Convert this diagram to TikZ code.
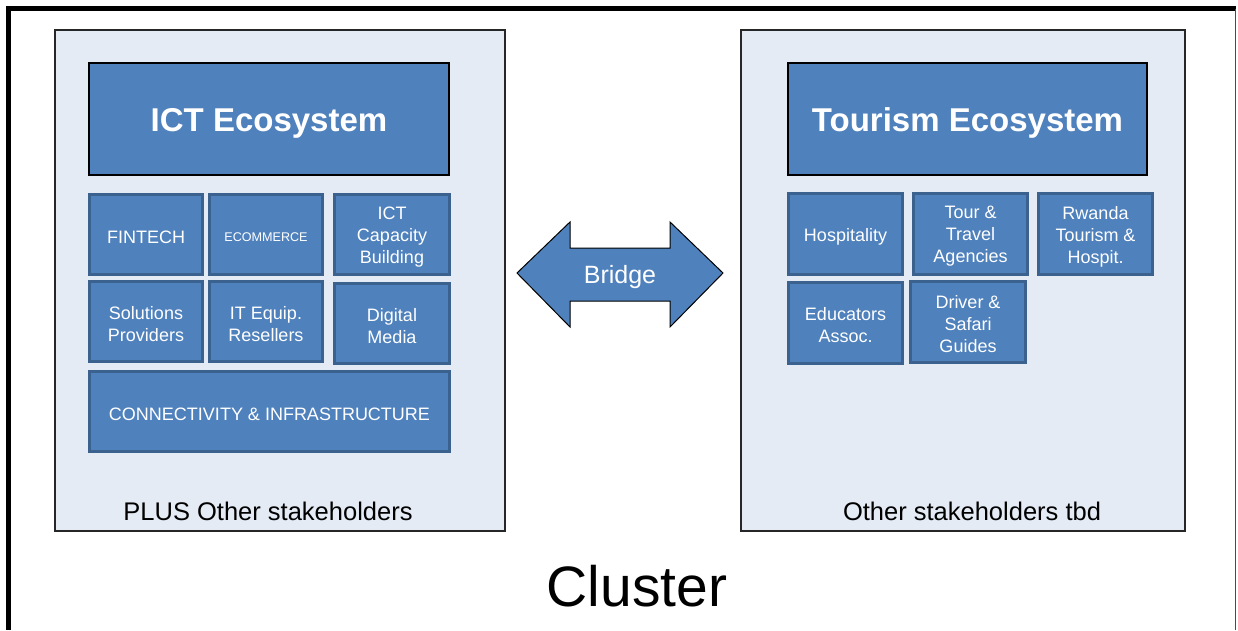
\documentclass[tikz,border=0pt]{standalone}
\usepackage{fontspec}
\setmainfont{Liberation Sans}
\definecolor{boxblue}{HTML}{4F81BD}
\definecolor{boxedge}{HTML}{3B618F}
\definecolor{panelfill}{HTML}{E4EBF5}
\newcommand\mycell[5][]{%
  \node[cellbox,#1] (#2) at (#3) {};
  \node[celltext,#4] (#2-t) at ([yshift=-2.5pt]#2.center) {#5};}
\begin{document}
\begin{tikzpicture}[x=1pt,y=-1pt,
  panel/.style={draw=black!85, line width=1.3pt, fill=panelfill},
  header/.style={draw=black, line width=1.2pt, fill=boxblue, inner sep=0pt, minimum height=112pt},
  headtext/.style={text=white, inner sep=0pt, font=\bfseries\fontsize{33}{38}\selectfont},
  cellbox/.style={draw=boxedge, line width=3pt, fill=boxblue, inner sep=0pt,
    minimum width=113pt, minimum height=80pt},
  celltext/.style={text=white, align=center, inner sep=0pt, font=\fontsize{18}{22}\selectfont},
  small/.style={font=\fontsize{12.6}{15}\selectfont},
  plain/.style={text=black, inner sep=0pt, font=\fontsize{25.5}{29}\selectfont},
  bridgeshape/.style={draw=black, line width=1pt, fill=boxblue, line join=miter}
]
\useasboundingbox (0,0) rectangle (1238,630);
\fill[white] (0,0) rectangle (1238,630);
% outer frame
\draw[line width=5pt] (8.5,630) -- (8.5,8.5) -- (1236,8.5);
\draw[line width=1pt, black!70] (1235.5,8.5) -- (1235.5,630);

% panels
\draw[panel] (55,30) rectangle (505,531);
\draw[panel] (741,30) rectangle (1185,531);

% ICT side
\node[header, minimum width=360pt] (ict) at (269,119) {};
\node[headtext, yshift=-4pt] (icttext) at (ict.center) {ICT Ecosystem};
\mycell{fintech}{146,234.5}{}{FINTECH}
\mycell{ecom}{266,234.5}{small}{ECOMMERCE}
\mycell[minimum width=115pt]{capacity}{392,234.5}{}{ICT\\Capacity\\Building}
\mycell{solutions}{146,321.5}{}{Solutions\\Providers}
\mycell{itequip}{266,321.5}{}{IT Equip.\\Resellers}
\mycell[minimum width=115pt]{digital}{392,323.5}{}{Digital\\Media}
\mycell[minimum width=360pt]{connect}{269.5,411.5}{}{CONNECTIVITY \& INFRASTRUCTURE}
\node[plain] (plus) at (268,511) {PLUS Other stakeholders};

% Tourism side
\node[header, minimum width=359pt] (tourism) at (967.5,119) {};
\node[headtext, yshift=-4pt] (tourismtext) at (tourism.center) {Tourism Ecosystem};
\mycell[minimum width=114pt, minimum height=81pt]{hosp}{845.5,234}{}{Hospitality}
\mycell[minimum width=114pt, minimum height=81pt]{tour}{970.5,234}{}{Tour \&\\Travel\\Agencies}
\mycell[minimum width=114pt, minimum height=81pt]{rwanda}{1095.5,234}{}{Rwanda\\Tourism \&\\Hospit.}
\mycell[minimum width=114pt, minimum height=81pt]{educ}{845.5,323}{}{Educators\\Assoc.}
\mycell[minimum width=115pt, minimum height=81pt]{driver}{968,322}{}{Driver \&\\Safari\\Guides}
\node[plain] (tbd) at (972,511) {Other stakeholders tbd};

% bridge arrow
\draw[bridgeshape] (517,273) -- (570,222) -- (570,248) -- (670,248) -- (670,222) -- (723,273)
  -- (670,327) -- (670,301) -- (570,301) -- (570,327) -- cycle;
\node[text=white, inner sep=0pt, font=\fontsize{25}{30}\selectfont] (bridge) at (620,277) {Bridge};

% title
\node[inner sep=0pt, font=\fontsize{57}{66}\selectfont] (cluster) at (637,586) {Cluster};
\end{tikzpicture}
\end{document}
